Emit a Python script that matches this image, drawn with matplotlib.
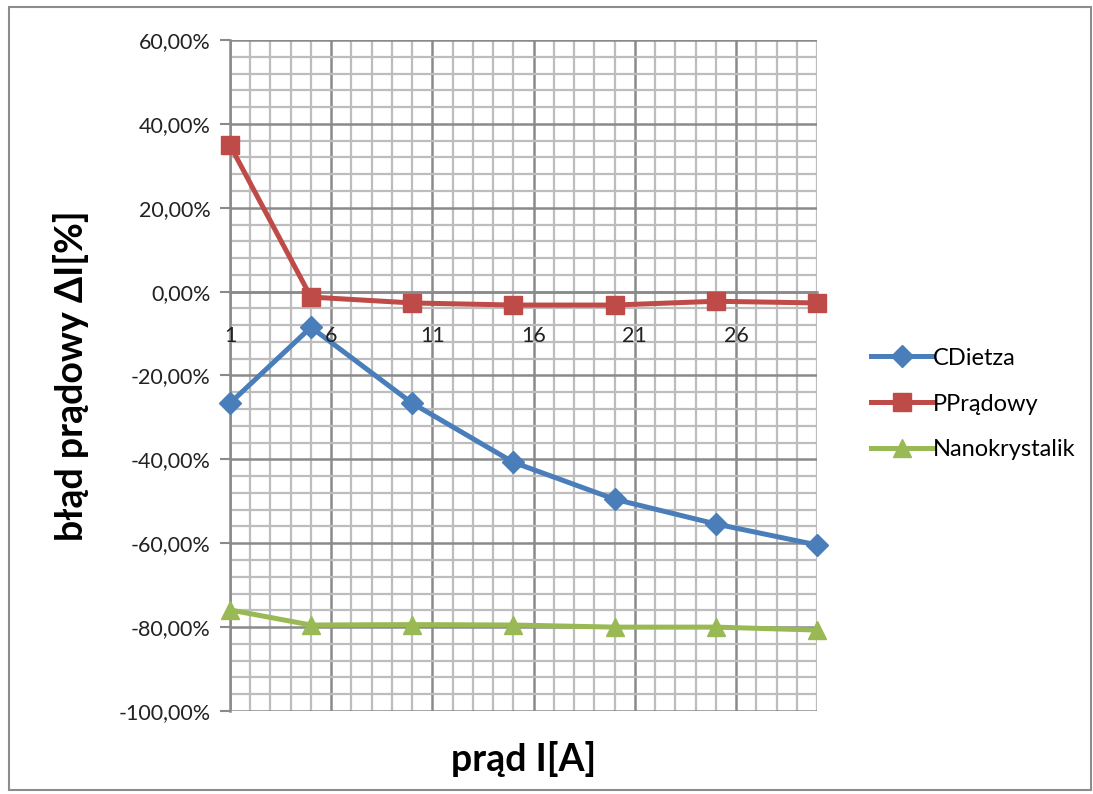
import numpy as np
import matplotlib.pyplot as plt
from matplotlib.ticker import FuncFormatter
from matplotlib.patches import Rectangle

plt.rcParams['font.family'] = ['Lato', 'DejaVu Sans']

# dane
prad = [1, 5, 10, 15, 20, 25, 30]
cdietza = [-26.6, -8.5, -26.6, -40.7, -49.5, -55.4, -60.4]
pradowy = [34.9, -1.3, -2.7, -3.2, -3.2, -2.3, -2.7]
nanokrystalik = [-75.9, -79.5, -79.4, -79.5, -80.0, -80.0, -80.7]

nazwy = ['CDietza', 'PPrądowy', 'Nanokrystalik']
kolory = ['#4A7EBB', '#BE4B48', '#98B954']
markery = ['D', 's', '^']
x_ticks = [1, 6, 11, 16, 21, 26]

fig = plt.figure(figsize=(10.93, 7.94), dpi=100)
ax = fig.add_axes([230/1093, 1 - 711/794, (817-230)/1093, (711-40)/794])

# ramka wykresu
fig.patches.append(Rectangle((9/1093, 1 - 790/794), 1 - 11/1093, 783/794,
                             transform=fig.transFigure, fill=False,
                             edgecolor='#8c8c8c', linewidth=1.5))

ax.set_xlim(1, 30)
ax.set_ylim(-100, 60)
ax.set_xticks(x_ticks)
ax.set_xticks(np.arange(1, 31, 1), minor=True)
ax.set_yticks(np.arange(-100, 61, 20))
ax.set_yticks(np.arange(-100, 61, 4), minor=True)
ax.grid(which='minor', color='#bdbdbd', linewidth=1.6)
ax.grid(which='major', color='#8a8a8a', linewidth=1.8)
ax.set_axisbelow(True)

for s in ['top', 'right']:
    ax.spines[s].set_visible(False)
ax.spines['left'].set_color('#8a8a8a')
ax.spines['left'].set_linewidth(1.8)
ax.spines['bottom'].set_position(('data', 0))
ax.spines['bottom'].set_color('#8a8a8a')
ax.spines['bottom'].set_linewidth(1.8)

ax.yaxis.set_major_formatter(FuncFormatter(lambda v, p: f'{v:.2f}%'.replace('.', ',')))
ax.tick_params(axis='y', which='major', length=7, width=1.5, color='#8a8a8a',
               labelsize=15.5, labelcolor='#222222', pad=7)
ax.tick_params(axis='y', which='minor', length=0)
ax.tick_params(axis='x', which='both', length=0, labelbottom=False)

# etykiety osi X nad siatką (jak w Excelu)
for xt in x_ticks:
    ax.annotate(str(xt), (xt, 0), xytext=(0, -32), textcoords='offset points',
                ha='center', va='center', fontsize=15.5, color='#222222',
                zorder=6, annotation_clip=False)

for y, n, c, m in zip([cdietza, pradowy, nanokrystalik], nazwy, kolory, markery):
    ms = 11 if m == 'D' else 13
    ax.plot(prad, y, color=c, marker=m, markersize=ms, linewidth=3.6,
            label=n, clip_on=False, zorder=5)

ax.set_xlabel('prąd I[A]', fontsize=27, fontweight='bold')
ax.xaxis.set_label_coords(0.5, -0.045)
ax.set_ylabel('błąd prądowy ΔI[%]', fontsize=27, fontweight='bold')
ax.yaxis.set_label_coords(-0.24, 0.5)

fig.legend(loc='center left', bbox_to_anchor=(862/1093, 1 - 404/794),
           frameon=False, fontsize=17, handlelength=2.6, handletextpad=0.0,
           labelspacing=1.05, borderaxespad=0)

fig.savefig('out.png', dpi=100)
